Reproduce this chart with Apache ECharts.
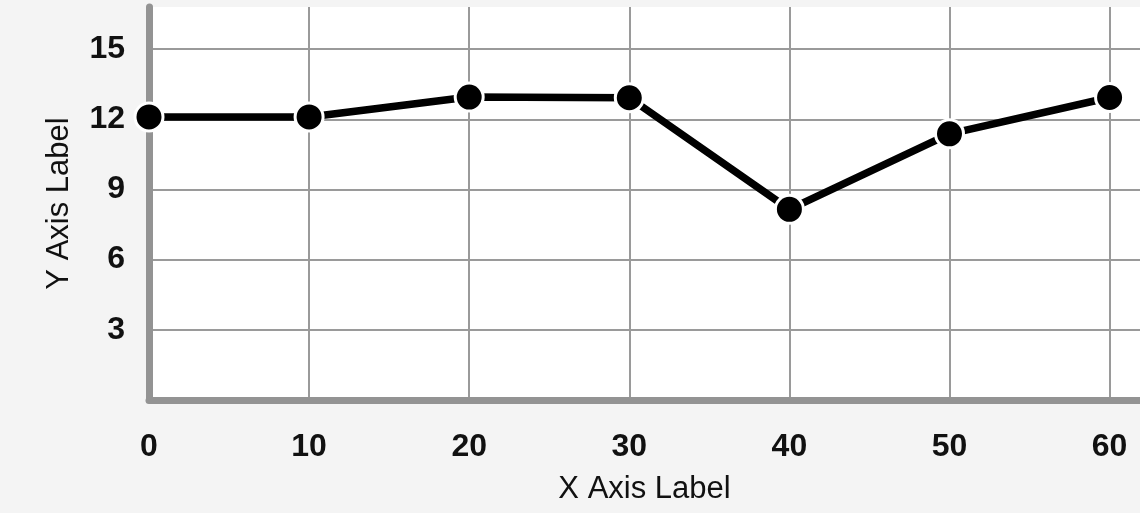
<!DOCTYPE html>
<html>
<head>
<meta charset="utf-8">
<script src="https://cdn.jsdelivr.net/npm/echarts@6/dist/echarts.min.js"></script>
<style>
html,body{margin:0;padding:0;background:#f4f4f4;}
#c{width:1140px;height:513px;}
</style>
</head>
<body>
<div id="c"></div>
<script>
const xValues = [0, 10, 20, 30, 40, 50, 60];
const yValues = [12.1, 12.1, 12.95, 12.92, 8.15, 11.38, 12.93];
const yTicks = [3, 6, 9, 12, 15];
const xTitle = 'X Axis Label';
const yTitle = 'Y Axis Label';

const font = '"Liberation Sans", Arial, Helvetica, sans-serif';
const chart = echarts.init(document.getElementById('c'), null, {renderer: 'canvas'});
chart.setOption({
  backgroundColor: '#f4f4f4',
  animation: false,
  grid: {left: 149, right: 0, top: 7, bottom: 113, show: true, backgroundColor: '#ffffff', borderWidth: 0, containLabel: false},
  xAxis: {
    type: 'value', min: 0, max: 61.9,
    name: xTitle, nameLocation: 'middle', nameGap: 74,
    nameTextStyle: {fontFamily: font, fontSize: 31, color: '#111'},
    axisLine: {show: true, onZero: false, lineStyle: {color: '#939393', width: 7, cap: 'round'}},
    axisTick: {show: false, customValues: xValues},
    axisLabel: {fontFamily: font, fontSize: 32, fontWeight: 'bold', color: '#111', margin: 31,
      customValues: xValues},
    splitLine: {show: true, lineStyle: {color: '#9a9a9a', width: 2}}
  },
  yAxis: {
    type: 'value', min: 0, max: 16.8,
    name: yTitle, nameLocation: 'middle', nameGap: 74, nameRotate: 90,
    nameTextStyle: {fontFamily: font, fontSize: 31, color: '#111'},
    axisLine: {show: true, onZero: false, lineStyle: {color: '#939393', width: 7, cap: 'round'}},
    axisTick: {show: false, customValues: yTicks},
    axisLabel: {fontFamily: font, fontSize: 32, fontWeight: 'bold', color: '#111', margin: 24,
      customValues: yTicks},
    splitLine: {show: true, lineStyle: {color: '#9a9a9a', width: 2}}
  },
  series: [{
    type: 'line',
    data: xValues.map((x, i) => [x, yValues[i]]),
    symbol: 'circle', symbolSize: 28,
    lineStyle: {color: '#000', width: 7.5},
    itemStyle: {color: '#000', borderColor: '#fff', borderWidth: 3},
    z: 5
  }]
});
</script>
</body>
</html>
